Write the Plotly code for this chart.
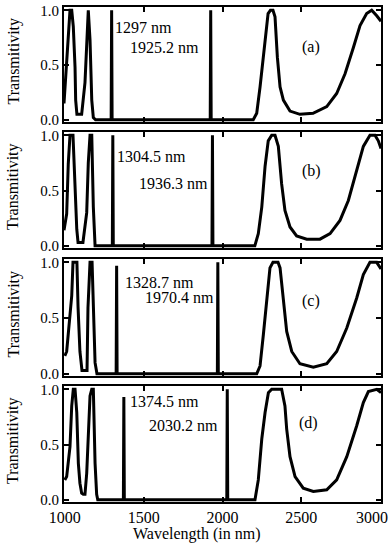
import plotly.graph_objects as go

# ---------------- data ----------------
panel_labels = ["(a)", "(b)", "(c)", "(d)"]
defect1_nm = [1297.0, 1304.5, 1328.7, 1374.5]
defect2_nm = [1925.2, 1936.3, 1970.4, 2030.2]
defect1_T = [1.0, 1.0, 0.97, 0.93]
defect2_T = [1.0, 1.0, 1.0, 1.0]

# short-wavelength pass band (left of the gap)
a_short_wl = [995, 1012, 1022, 1033, 1044, 1054, 1065, 1069, 1077, 1107, 1128, 1139, 1149, 1160, 1171, 1181, 1195]
a_short_T = [0.15, 0.52, 0.79, 1.0, 1.0, 0.85, 0.48, 0.18, 0.05, 0.05, 0.34, 0.70, 1.0, 0.73, 0.18, 0.02, 0.0]
b_short_wl = [995, 1012, 1022, 1033, 1052, 1065, 1076, 1084, 1115, 1139, 1149, 1160, 1171, 1181, 1192]
b_short_T = [0.14, 0.29, 0.74, 1.0, 1.0, 0.52, 0.15, 0.03, 0.03, 0.30, 0.75, 1.0, 1.0, 0.35, 0.0]
c_short_wl = [1000, 1012, 1044, 1052, 1077, 1084, 1096, 1109, 1141, 1147, 1160, 1173, 1192, 1204]
c_short_T = [0.16, 0.20, 0.70, 1.0, 1.0, 0.60, 0.20, 0.03, 0.03, 0.59, 1.0, 1.0, 0.10, 0.0]
d_short_wl = [1000, 1012, 1033, 1044, 1054, 1065, 1076, 1086, 1096, 1107, 1117, 1128, 1139, 1149, 1160, 1171, 1181, 1192, 1202, 1209]
d_short_T = [0.18, 0.21, 0.48, 0.85, 1.0, 1.0, 0.79, 0.33, 0.15, 0.06, 0.05, 0.05, 0.24, 0.64, 0.94, 1.0, 1.0, 0.33, 0.05, 0.0]

# long-wavelength pass band (right of the gap)
a_long_wl = [2195, 2217, 2238, 2259, 2280, 2289, 2304, 2320, 2333, 2348, 2365, 2386, 2428, 2491, 2574, 2661, 2724, 2777, 2830, 2872, 2914, 2946, 2978, 3005]
a_long_T = [0.0, 0.06, 0.30, 0.57, 0.83, 0.97, 1.0, 1.0, 0.94, 0.57, 0.30, 0.18, 0.08, 0.05, 0.06, 0.12, 0.24, 0.42, 0.66, 0.86, 0.97, 1.0, 0.95, 0.90]
b_long_wl = [2205, 2227, 2249, 2270, 2290, 2312, 2333, 2354, 2375, 2396, 2428, 2470, 2534, 2618, 2682, 2745, 2798, 2851, 2893, 2935, 2967, 2988, 3005]
b_long_T = [0.0, 0.11, 0.35, 0.72, 0.95, 1.0, 1.0, 0.90, 0.56, 0.32, 0.17, 0.09, 0.06, 0.06, 0.11, 0.23, 0.41, 0.68, 0.90, 1.0, 1.0, 0.95, 0.88]
c_long_wl = [2217, 2238, 2259, 2280, 2301, 2320, 2352, 2365, 2386, 2407, 2439, 2491, 2576, 2661, 2724, 2788, 2851, 2893, 2935, 2978, 3005]
c_long_T = [0.0, 0.07, 0.35, 0.68, 0.95, 1.0, 1.0, 0.95, 0.68, 0.38, 0.20, 0.09, 0.06, 0.09, 0.20, 0.41, 0.68, 0.89, 1.0, 1.0, 0.94]
d_long_wl = [2206, 2227, 2249, 2270, 2291, 2312, 2375, 2396, 2407, 2428, 2460, 2512, 2576, 2661, 2724, 2788, 2851, 2893, 2925, 2978, 3005]
d_long_T = [0.0, 0.18, 0.55, 0.79, 0.97, 1.0, 1.0, 0.85, 0.64, 0.39, 0.21, 0.105, 0.076, 0.09, 0.18, 0.39, 0.67, 0.88, 0.98, 1.0, 0.97]

x_tick_vals = [1000, 1500, 2000, 2500, 3000]
x_tick_text = ["1000", "1500", "2000", "2500", "3000"]
y_tick_vals = [0.0, 0.5, 1.0]
y_tick_text = ["0.0", "0.5", "1.0"]
x_title = "Wavelength (in nm)"
y_title = "Transmitivity"

short_wl = [a_short_wl, b_short_wl, c_short_wl, d_short_wl]
short_T = [a_short_T, b_short_T, c_short_T, d_short_T]
long_wl = [a_long_wl, b_long_wl, c_long_wl, d_long_wl]
long_T = [a_long_T, b_long_T, c_long_T, d_long_T]

# ---------------- layout geometry ----------------
W, H = 390, 544
ML, MR, MT, MB = 64, 9, 7, 42
PW, PH = W - ML - MR, H - MT - MB
panel_px = [(7, 122), (132, 248), (259, 376), (386, 502)]  # top, bottom in px


def ypaper(py):
    return (H - MB - py) / PH


def xpaper(px):
    return (px - ML) / PW


FONT = "Liberation Serif"
fig = go.Figure()

for i in range(4):
    half = 3.0
    xs = list(short_wl[i]) + [defect1_nm[i] - half, defect1_nm[i], defect1_nm[i] + half,
                              defect2_nm[i] - half, defect2_nm[i], defect2_nm[i] + half] + list(long_wl[i])
    ys = list(short_T[i]) + [0.0, defect1_T[i], 0.0, 0.0, defect2_T[i], 0.0] + list(long_T[i])
    sfx = "" if i == 0 else str(i + 1)
    fig.add_trace(go.Scatter(x=xs, y=ys, mode="lines",
                             line=dict(color="black", width=3),
                             xaxis="x" + sfx, yaxis="y" + sfx,
                             showlegend=False, hoverinfo="skip"))

axis_common = dict(showline=True, linecolor="black", linewidth=2, mirror="ticks",
                   ticks="inside", ticklen=5, tickwidth=1.5, tickcolor="black",
                   showgrid=False, zeroline=False, automargin=False)

layout = dict(width=W, height=H, margin=dict(l=ML, r=MR, t=MT, b=MB, autoexpand=False),
              paper_bgcolor="white", plot_bgcolor="white", showlegend=False,
              font=dict(family=FONT, size=16, color="black"))

annotations = []
label_pos = [  # (px_x_left, py) for defect labels and panel tag centre
    ((113, 27), (128, 48), (311, 47)),
    ((115, 156), (137, 184), (311, 171)),
    ((123, 282), (143, 297), (311, 301)),
    ((128, 401), (147, 425), (308, 423)),
]

# last tick label is drawn as a right-aligned annotation so it stays inside the page
shown_tick_text = x_tick_text[:-1] + [""]

for i in range(4):
    sfx = "" if i == 0 else str(i + 1)
    top, bot = panel_px[i]
    xa = dict(axis_common, range=[995, 3005], tickvals=x_tick_vals, ticktext=shown_tick_text,
              anchor="y" + sfx, domain=[0, 1], showticklabels=(i == 3),
              tickfont=dict(family=FONT, size=16, color="black"))
    if i > 0:
        xa["matches"] = "x"
    ya = dict(axis_common, range=[-0.02, 1.03], tickvals=y_tick_vals, ticktext=y_tick_text,
              anchor="x" + sfx, domain=[ypaper(bot), ypaper(top)],
              tickfont=dict(family=FONT, size=15, color="black"))
    layout["xaxis" + sfx] = xa
    layout["yaxis" + sfx] = ya

    (l1x, l1y), (l2x, l2y), (tx, ty) = label_pos[i]
    annotations.append(dict(text=f"{defect1_nm[i]:g} nm", x=xpaper(l1x), y=ypaper(l1y),
                            xref="paper", yref="paper", xanchor="left", yanchor="middle",
                            showarrow=False, font=dict(family=FONT, size=16, color="black")))
    annotations.append(dict(text=f"{defect2_nm[i]:g} nm", x=xpaper(l2x), y=ypaper(l2y),
                            xref="paper", yref="paper", xanchor="left", yanchor="middle",
                            showarrow=False, font=dict(family=FONT, size=16, color="black")))
    annotations.append(dict(text=panel_labels[i], x=xpaper(tx), y=ypaper(ty),
                            xref="paper", yref="paper", xanchor="center", yanchor="middle",
                            showarrow=False, font=dict(family=FONT, size=16, color="black")))
    annotations.append(dict(text=y_title, x=xpaper(13), y=ypaper((top + bot) / 2 - 3),
                            xref="paper", yref="paper", xanchor="center", yanchor="middle",
                            textangle=-90, showarrow=False,
                            font=dict(family=FONT, size=16, color="black")))

annotations.append(dict(text=x_tick_text[-1], x=xpaper(W - 1), y=ypaper(517),
                        xref="paper", yref="paper", xanchor="right", yanchor="middle",
                        showarrow=False, borderpad=0,
                        font=dict(family=FONT, size=16, color="black")))
annotations.append(dict(text=x_title, x=xpaper(197), y=ypaper(534), xref="paper", yref="paper",
                        xanchor="center", yanchor="middle", showarrow=False,
                        font=dict(family=FONT, size=16, color="black")))
layout["annotations"] = annotations
fig.update_layout(**layout)
fig.write_html("out.html")
